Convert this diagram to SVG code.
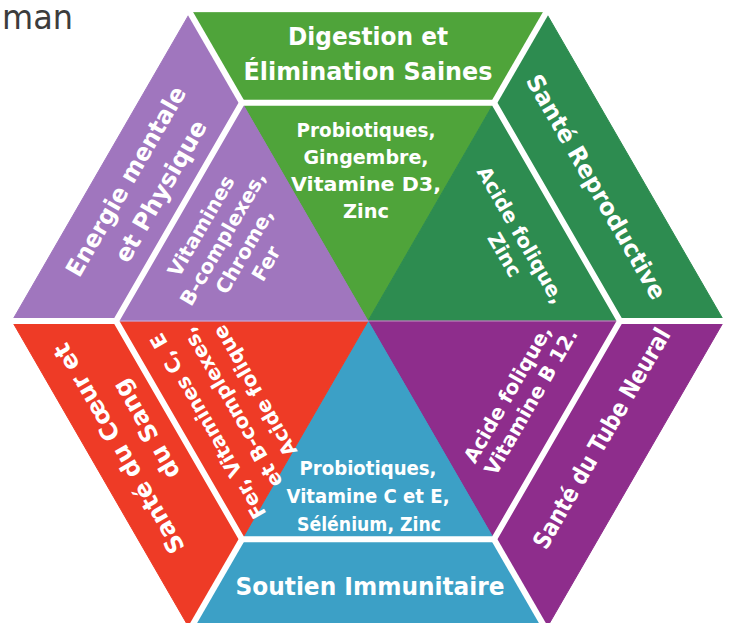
<svg xmlns="http://www.w3.org/2000/svg" width="729" height="623" viewBox="0 0 729 623">
  <style>
    .t{font-family:"DejaVu Sans","Liberation Sans",sans-serif;font-weight:bold;fill:#ffffff;text-anchor:middle}
    .band{font-size:24px}
    .inner{font-size:20px}
    .sep{stroke:#ffffff;stroke-width:6;fill:none}
    .green{fill:#4fa43a;stroke:#4fa43a}
    .dgreen{fill:#2d8c50;stroke:#2d8c50}
    .magenta{fill:#8e2d8c;stroke:#8e2d8c}
    .blue{fill:#3ca0c6;stroke:#3ca0c6}
    .red{fill:#ee3b26;stroke:#ee3b26}
    .lav{fill:#a076be;stroke:#a076be}
  </style>
  <rect width="729" height="623" fill="#ffffff"/>
  <text x="2" y="29" font-family="DejaVu Sans, sans-serif" font-size="33" fill="#3c3c3c" textLength="71" lengthAdjust="spacingAndGlyphs">man</text>

  <g id="digestion">
    <polygon class="green" points="190,12.7 546,12.7 494,102.8 242,102.8"/>
    <polygon class="green" points="242,102.8 494,102.8 368,321"/>
    <text class="t band" x="368" y="45" textLength="160" lengthAdjust="spacingAndGlyphs">Digestion et</text>
    <text class="t band" x="368" y="80" textLength="249" lengthAdjust="spacingAndGlyphs">Élimination Saines</text>
    <text class="t inner" x="366" y="137" textLength="139" lengthAdjust="spacingAndGlyphs">Probiotiques,</text>
    <text class="t inner" x="366" y="164" textLength="125" lengthAdjust="spacingAndGlyphs">Gingembre,</text>
    <text class="t inner" x="366" y="191" textLength="150" lengthAdjust="spacingAndGlyphs">Vitamine D3,</text>
    <text class="t inner" x="366" y="218" textLength="46" lengthAdjust="spacingAndGlyphs">Zinc</text>
  </g>

  <g id="reproductive">
    <polygon class="dgreen" points="546,12.7 724,321 620,321 494,102.8"/>
    <polygon class="dgreen" points="494,102.8 620,321 368,321"/>
    <g transform="translate(596,187) rotate(60)">
      <text class="t band" x="0" y="8" textLength="255" lengthAdjust="spacingAndGlyphs">Santé Reproductive</text>
    </g>
    <g transform="translate(521,235) rotate(60)">
      <text class="t inner" x="0" y="7">Acide folique,</text>
      <text class="t inner" x="9" y="31">Zinc</text>
    </g>
  </g>

  <g id="neural">
    <polygon class="magenta" points="724,321 546,629.3 494,539.2 620,321"/>
    <polygon class="magenta" points="620,321 494,539.2 368,321"/>
    <g transform="translate(596,452.5) rotate(-60)">
      <text class="t band" x="15" y="6" textLength="250" lengthAdjust="spacingAndGlyphs">Santé du Tube Neural</text>
    </g>
    <g transform="translate(518,400) rotate(-60)">
      <text class="t inner" x="0" y="-5">Acide folique,</text>
      <text class="t inner" x="5" y="19">Vitamine B 12.</text>
    </g>
  </g>

  <g id="immunitaire">
    <polygon class="blue" points="546,629.3 190,629.3 242,539.2 494,539.2"/>
    <polygon class="blue" points="494,539.2 242,539.2 368,321"/>
    <text class="t inner" x="368" y="475" textLength="137" lengthAdjust="spacingAndGlyphs">Probiotiques,</text>
    <text class="t inner" x="368" y="503" textLength="163" lengthAdjust="spacingAndGlyphs">Vitamine C et E,</text>
    <text class="t inner" x="369" y="531" textLength="144" lengthAdjust="spacingAndGlyphs">Sélénium, Zinc</text>
    <text class="t band" x="370" y="595" textLength="269" lengthAdjust="spacingAndGlyphs">Soutien Immunitaire</text>
  </g>

  <g id="coeur">
    <polygon class="red" points="190,629.3 12,321 116,321 242,539.2"/>
    <polygon class="red" points="242,539.2 116,321 368,321"/>
    <g transform="translate(140,452.5) rotate(-120)">
      <text class="t band" x="14" y="-8">Santé du Cœur et</text>
      <text class="t band" x="17" y="25">du Sang</text>
    </g>
    <g transform="translate(230,404) rotate(-120)">
      <text class="t inner" x="-8" y="-23">Fer, Vitamines C, E</text>
      <text class="t inner" x="-4" y="7">et B-complexes,</text>
      <text class="t inner" x="-1" y="35">Acide folique</text>
    </g>
  </g>

  <g id="energie">
    <polygon class="lav" points="12,321 190,12.7 242,102.8 116,321"/>
    <polygon class="lav" points="116,321 242,102.8 368,321"/>
    <g transform="translate(140,189.5) rotate(-60)">
      <text class="t band" x="0" y="-8" textLength="215" lengthAdjust="spacingAndGlyphs">Energie mentale</text>
      <text class="t band" x="9" y="27">et Physique</text>
    </g>
    <g transform="translate(234,245) rotate(-60)">
      <text class="t inner" x="0" y="-31">Vitamines</text>
      <text class="t inner" x="0" y="-6">B-complexes,</text>
      <text class="t inner" x="0" y="19">Chrome,</text>
      <text class="t inner" x="0" y="44">Fer</text>
    </g>
  </g>

  <g id="connectors">
    <line x1="116" y1="321" x2="620" y2="321" stroke="#f2e6f2" stroke-width="1.2" stroke-opacity="0.55"/>
    <polygon class="sep" points="620,321 494,102.8 242,102.8 116,321 242,539.2 494,539.2"/>
    <line class="sep" x1="494" y1="102.8" x2="548" y2="9.2"/>
    <line class="sep" x1="242" y1="102.8" x2="188" y2="9.2"/>
    <line class="sep" x1="116" y1="321" x2="8" y2="321"/>
    <line class="sep" x1="620" y1="321" x2="728" y2="321"/>
    <line class="sep" x1="242" y1="539.2" x2="188" y2="632.8"/>
    <line class="sep" x1="494" y1="539.2" x2="548" y2="632.8"/>
  </g>
</svg>
